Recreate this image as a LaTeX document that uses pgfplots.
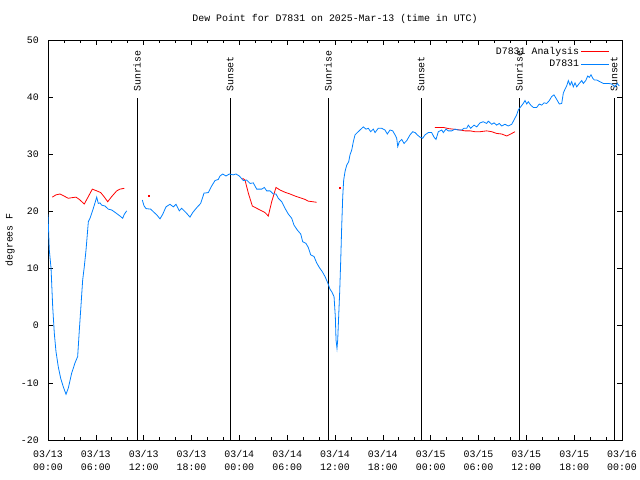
\documentclass[border=0pt]{standalone}
\usepackage{pgfplots}
\pgfplotsset{compat=1.18}
\usepackage{fontspec}
\setmainfont{Liberation Mono}
\definecolor{anared}{RGB}{255,0,0}
\definecolor{obsblue}{RGB}{0,128,255}
\begin{document}
\fontsize{9.9bp}{13bp}\selectfont
\begin{tikzpicture}
\useasboundingbox (0,0) rectangle (640bp,480bp);
\begin{axis}[
  at={(48bp,40bp)}, anchor=south west,
  scale only axis, width=574bp, height=400bp,
  xmin=0, xmax=72, ymin=-20, ymax=50,
  xtick={0,6,...,72}, minor x tick num=2,
  ytick={-20,-10,...,50},
  xticklabels={{03/13\\00:00},{03/13\\06:00},{03/13\\12:00},{03/13\\18:00},{03/14\\00:00},{03/14\\06:00},{03/14\\12:00},{03/14\\18:00},{03/15\\00:00},{03/15\\06:00},{03/15\\12:00},{03/15\\18:00},{03/16\\00:00}},
  xticklabel style={align=center, inner sep=1bp, yshift=-9bp},
  yticklabel style={inner sep=1bp, xshift=-8bp},
  /pgf/number format/assume math mode=true,
  tick align=inside,
  major tick length=5bp, minor tick length=3bp,
  axis line style={line width=0.8bp},
  every tick/.style={black, line width=0.6bp},
  title={Dew Point for D7831 on 2025-Mar-13 (time in UTC)},
  every axis title/.style={at={(axis description cs:0.5,1.0525)}, anchor=center, inner sep=0pt},
  ylabel={degrees F},
  every axis y label/.style={at={(axis description cs:-0.0662,0.5)}, rotate=90, anchor=center, inner sep=0pt},
  unbounded coords=jump,
  legend style={at={(axis description cs:0.981,0.99)}, anchor=north east, draw=none, fill=none, inner sep=1bp, row sep=0.2bp},
  legend cell align=right,
  legend plot pos=right,
  legend image code/.code={\draw[#1] (6bp,0bp) -- (34bp,0bp);},
]
% sunrise / sunset lines
\addplot[black, line width=0.8bp, forget plot] coordinates {(11.16,-20) (11.16,39.8)};
\addplot[black, line width=0.8bp, forget plot] coordinates {(22.83,-20) (22.83,39.8)};
\addplot[black, line width=0.8bp, forget plot] coordinates {(35.12,-20) (35.12,39.8)};
\addplot[black, line width=0.8bp, forget plot] coordinates {(46.79,-20) (46.79,39.8)};
\addplot[black, line width=0.8bp, forget plot] coordinates {(59.08,-20) (59.08,39.8)};
\addplot[black, line width=0.8bp, forget plot] coordinates {(71.00,-20) (71.00,39.8)};
\node[rotate=90, anchor=west, inner sep=0pt] at (axis cs:11.16,40.9) {Sunrise};
\node[rotate=90, anchor=west, inner sep=0pt] at (axis cs:22.83,40.9) {Sunset};
\node[rotate=90, anchor=west, inner sep=0pt] at (axis cs:35.12,40.9) {Sunrise};
\node[rotate=90, anchor=west, inner sep=0pt] at (axis cs:46.79,40.9) {Sunset};
\node[rotate=90, anchor=west, inner sep=0pt] at (axis cs:59.08,40.9) {Sunrise};
\node[rotate=90, anchor=west, inner sep=0pt] at (axis cs:71.00,40.9) {Sunset};
% analysis
\addplot[anared, line width=0.8bp, no markers] coordinates {
(0.54,22.5) (1.0,22.9) (1.5,23.05) (2.0,22.7) (2.55,22.3) (2.97,22.4) (3.51,22.5) (3.93,22.1) (4.55,21.3) (5.06,22.6) (5.56,23.9) (6.11,23.6) (6.61,23.3) (7.02,22.6) (7.49,21.7) (7.99,22.6) (8.62,23.6) (9.03,23.9) (9.57,24.05)
(9.8,nan)
(24.4,25.8) (24.71,25.5) (25.13,23.2) (25.63,20.95) (26.18,20.55) (26.81,20.1) (27.22,19.8) (27.63,19.2) (28.06,21.7) (28.6,24.2) (29.1,23.75) (29.73,23.35) (30.36,23.05) (30.98,22.7) (31.61,22.4) (32.24,22.1) (32.65,21.8) (33.2,21.7) (33.7,21.6)
(34.0,nan)
(48.54,34.7) (49.59,34.7) (50.21,34.5) (50.84,34.4) (51.68,34.25) (52.31,34.1) (52.94,34.1) (53.56,33.95) (54.19,33.95) (55.03,34.1) (55.66,33.95) (56.28,33.65) (56.91,33.55) (57.54,33.2) (58.04,33.55) (58.58,33.95)
};
\addlegendentry{D7831 Analysis}
\addplot[anared, only marks, mark=square*, mark size=0.45bp, forget plot] coordinates {(12.58,22.7) (36.54,24.2)};
% observations
\addplot[obsblue, line width=0.8bp, no markers] coordinates {
(0.0,19.5) (0.16,13.3) (0.38,10.1) (0.59,3.3) (0.79,-1.3) (1.0,-4.5) (1.29,-7.2) (1.59,-9.2) (1.92,-10.7) (2.26,-12.0) (2.55,-10.9) (2.97,-8.3) (3.39,-6.5) (3.72,-5.4) (3.93,-0.75) (4.1,2.75) (4.35,8) (4.55,10.3) (4.77,13.25) (5.06,18.2) (5.27,18.8) (5.56,20) (5.81,21.1) (6.11,22.5) (6.31,21.4) (6.52,21.5) (6.74,21.1) (7.15,20.95) (7.56,20.4) (7.99,20.25) (8.4,19.85) (9.03,19.2) (9.37,18.8) (9.57,19.5) (9.87,20.1)
(10.5,nan)
(11.83,22.0) (12.04,21.0) (12.29,20.5) (12.88,20.4) (13.21,19.95) (13.64,19.4) (14.05,18.7) (14.39,19.5) (14.8,20.8) (15.3,21.25) (15.72,20.8) (16.06,21.25) (16.47,20.1) (16.77,20.55) (17.31,19.8) (17.81,19.0) (18.15,19.8) (18.65,20.65) (19.15,21.4) (19.57,23.2) (20.11,23.3) (20.53,24.45) (20.95,25.4) (21.36,25.6) (21.58,26.2) (21.91,26.55) (22.33,26.2) (22.74,26.55) (23.24,26.4) (23.58,26.55) (24.0,26.2) (24.5,25.4) (24.92,25.5) (25.34,24.9) (25.75,25.0) (26.18,23.9) (26.81,23.9) (27.14,24.2) (27.43,23.6) (27.85,23.6) (28.26,23.05) (28.6,23.05) (28.89,22.3) (29.32,21.7) (29.73,20.55) (30.14,19.55) (30.57,18.8) (30.86,17.6) (31.27,16.75) (31.7,16.05) (31.95,14.7) (32.36,14.4) (32.65,13.7) (32.95,12.4) (33.37,12.1) (33.7,11.0) (34.03,10.2) (34.41,9.45) (34.75,8.6) (35.09,7.5) (35.37,6.4) (35.59,5.95) (35.88,5.1) (36.04,1.6) (36.13,-2.5) (36.25,-3.95) (36.34,-2.5) (36.46,1.6) (36.59,5.95) (36.72,11.5) (36.84,17.3) (36.97,22.6) (37.09,25.5) (37.26,27.0) (37.47,28.1) (37.72,28.7) (37.88,29.9) (38.1,30.75) (38.3,32.2) (38.51,33.4) (38.8,33.8) (39.14,34.25) (39.55,34.8) (39.89,34.4) (40.18,34.55) (40.48,33.95) (40.8,34.4) (41.02,33.8) (41.43,34.55) (41.86,34.55) (42.27,34.25) (42.56,33.55) (42.9,34.25) (43.24,34.1) (43.53,33.4) (43.74,32.8) (43.87,31.35) (44.07,32.2) (44.37,32.6) (44.66,31.9) (45.0,32.4) (45.41,33.4) (45.75,33.95) (46.04,33.8) (46.32,33.4) (46.66,33.0) (47.0,32.8) (47.29,33.4) (47.7,33.8) (48.13,33.8) (48.42,33.0) (48.67,32.6) (48.96,33.95) (49.39,34.25) (49.59,33.8) (49.92,34.4) (50.21,34.1) (50.64,34.1) (51.05,34.4) (51.47,34.25) (51.89,34.25) (52.18,34.55) (52.52,34.55) (52.72,35.1) (53.02,34.55) (53.44,35.1) (53.78,34.8) (54.19,35.5) (54.6,35.7) (55.03,35.4) (55.23,35.8) (55.66,35.25) (55.95,35.5) (56.28,35.1) (56.61,35.4) (56.91,34.95) (57.32,35.25) (57.74,34.95) (58.17,35.25) (58.45,36.0) (58.79,36.9) (58.99,37.75) (59.29,38.3) (59.62,38.9) (59.83,39.4) (60.05,38.8) (60.25,39.2) (60.55,38.6) (60.88,38.2) (61.3,38.2) (61.63,38.8) (61.93,38.6) (62.22,39.0) (62.56,38.9) (62.88,39.4) (63.18,40.1) (63.47,40.4) (63.81,39.6) (64.14,38.8) (64.44,38.9) (64.64,40.7) (64.85,41.4) (65.06,41.95) (65.27,42.9) (65.48,42.1) (65.69,42.7) (65.89,41.8) (66.11,42.5) (66.32,41.8) (66.64,42.4) (66.95,42.9) (67.15,42.4) (67.45,42.9) (67.7,43.7) (67.9,43.45) (68.11,43.9) (68.33,43.3) (68.53,43.0) (68.83,43.0) (69.24,42.7) (69.66,42.4) (70.28,42.4) (70.71,42.3) (71.12,41.8) (71.41,42.4) (71.66,41.95)
};
\addlegendentry{D7831}
\end{axis}
\end{tikzpicture}
\end{document}
